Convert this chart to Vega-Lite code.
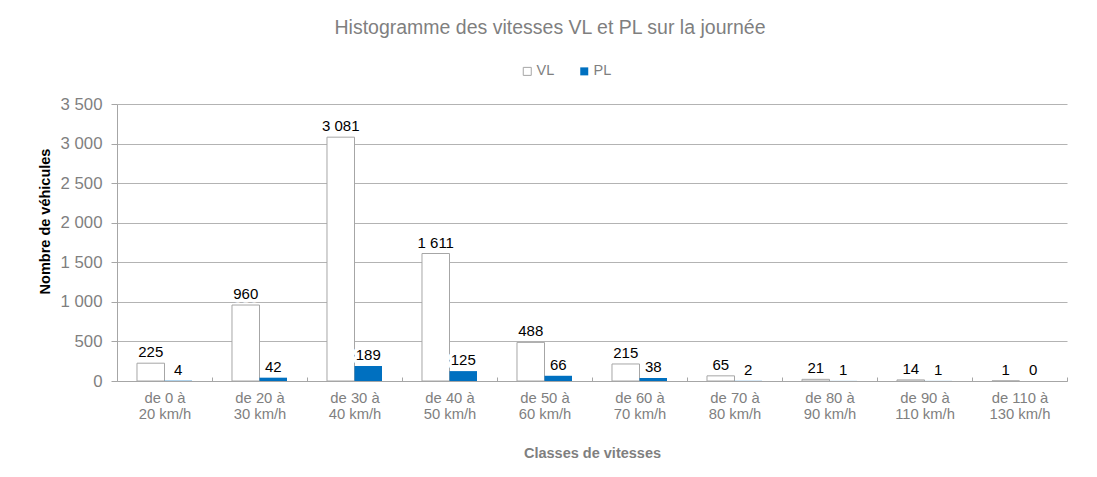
{
  "$schema": "https://vega.github.io/schema/vega-lite/v6.json",
  "width": 950,
  "height": 277,
  "autosize": {"type": "none"},
  "padding": {"left": 117, "top": 104, "right": 30, "bottom": 96},
  "background": "white",
  "config": {
    "font": "Liberation Sans",
    "view": {"stroke": null},
    "locale": {"number": {"decimal": ",", "thousands": " ", "grouping": [3], "currency": ["", " €"]}}
  },
  "title": {
    "text": "Histogramme des vitesses VL et PL sur la journée",
    "fontSize": 19.5,
    "fontWeight": "normal",
    "color": "#7F7F7F",
    "font": "Liberation Sans",
    "anchor": "middle",
    "dx": -42,
    "offset": 26
  },
  "data": {
    "values": [
      {"classe": "de 0 à 20 km/h", "type": "VL", "n": 225},
      {"classe": "de 0 à 20 km/h", "type": "PL", "n": 4},
      {"classe": "de 20 à 30 km/h", "type": "VL", "n": 960},
      {"classe": "de 20 à 30 km/h", "type": "PL", "n": 42},
      {"classe": "de 30 à 40 km/h", "type": "VL", "n": 3081},
      {"classe": "de 30 à 40 km/h", "type": "PL", "n": 189},
      {"classe": "de 40 à 50 km/h", "type": "VL", "n": 1611},
      {"classe": "de 40 à 50 km/h", "type": "PL", "n": 125},
      {"classe": "de 50 à 60 km/h", "type": "VL", "n": 488},
      {"classe": "de 50 à 60 km/h", "type": "PL", "n": 66},
      {"classe": "de 60 à 70 km/h", "type": "VL", "n": 215},
      {"classe": "de 60 à 70 km/h", "type": "PL", "n": 38},
      {"classe": "de 70 à 80 km/h", "type": "VL", "n": 65},
      {"classe": "de 70 à 80 km/h", "type": "PL", "n": 2},
      {"classe": "de 80 à 90 km/h", "type": "VL", "n": 21},
      {"classe": "de 80 à 90 km/h", "type": "PL", "n": 1},
      {"classe": "de 90 à 110 km/h", "type": "VL", "n": 14},
      {"classe": "de 90 à 110 km/h", "type": "PL", "n": 1},
      {"classe": "de 110 à 130 km/h", "type": "VL", "n": 1},
      {"classe": "de 110 à 130 km/h", "type": "PL", "n": 0}
    ]
  },
  "encoding": {
    "x": {
      "field": "classe",
      "type": "nominal",
      "sort": null,
      "scale": {"paddingInner": 0, "paddingOuter": 0},
      "axis": {
        "title": "Classes de vitesses",
        "titleFont": "Liberation Sans",
        "titleFontSize": 14.5,
        "titleFontWeight": "bold",
        "titleColor": "#7F7F7F",
        "titlePadding": 26,
        "labelAngle": 0,
        "labelFont": "Liberation Sans",
        "labelFontSize": 14.8,
        "labelColor": "#7F7F7F",
        "labelLineHeight": 16,
        "labelBaseline": "top",
        "labelPadding": 13,
        "labelExpr": "[slice(datum.label, 0, indexof(datum.label, ' à') + 2), slice(datum.label, indexof(datum.label, ' à') + 3)]",
        "ticks": true,
        "tickBand": "extent",
        "tickSize": -4,
        "tickColor": "#A6A6A6",
        "domainColor": "#A6A6A6",
        "grid": false
      }
    },
    "xOffset": {
      "field": "type",
      "type": "nominal",
      "sort": ["VL", "PL"],
      "scale": {"paddingInner": 0, "paddingOuter": 0.727}
    },
    "y": {
      "field": "n",
      "type": "quantitative",
      "scale": {"domain": [0, 3500]},
      "axis": {
        "title": "Nombre de véhicules",
        "titleFont": "Liberation Sans",
        "titleFontSize": 14.5,
        "titleFontWeight": "bold",
        "titleColor": "#000000",
        "titlePadding": 8,
        "titleY": 117,
        "values": [0, 500, 1000, 1500, 2000, 2500, 3000, 3500],
        "format": ",d",
        "labelFont": "Liberation Sans",
        "labelFontSize": 16.8,
        "labelColor": "#7F7F7F",
        "labelPadding": 9,
        "tickSize": 6,
        "tickColor": "#A6A6A6",
        "domainColor": "#A6A6A6",
        "gridColor": "#B3B3B3"
      }
    }
  },
  "layer": [
    {
      "mark": {"type": "bar", "strokeWidth": 1},
      "encoding": {
        "color": {
          "field": "type",
          "type": "nominal",
          "scale": {"domain": ["VL", "PL"], "range": ["#FFFFFF", "#0070C0"]},
          "legend": {
            "title": null,
            "orient": "none",
            "direction": "horizontal",
            "legendX": 403,
            "legendY": -40,
            "symbolType": "square",
            "symbolSize": 64,
            "symbolStrokeWidth": 1,
            "labelFont": "Liberation Sans",
            "labelFontSize": 14.5,
            "labelColor": "#7F7F7F",
            "labelOffset": 2,
            "columnPadding": 22
          }
        },
        "stroke": {
          "field": "type",
          "type": "nominal",
          "scale": {"domain": ["VL", "PL"], "range": ["#A6A6A6", "transparent"]},
          "legend": {
            "title": null,
            "orient": "none",
            "direction": "horizontal",
            "legendX": 403,
            "legendY": -40,
            "symbolType": "square",
            "symbolSize": 64,
            "symbolStrokeWidth": 1,
            "labelFont": "Liberation Sans",
            "labelFontSize": 14.5,
            "labelColor": "#7F7F7F",
            "labelOffset": 2,
            "columnPadding": 22
          }
        }
      }
    },
    {
      "mark": {"type": "text", "baseline": "alphabetic", "dy": -6, "fontSize": 15, "font": "Liberation Sans", "stroke": "white", "strokeWidth": 7, "strokeJoin": "round", "fill": "white"},
      "encoding": {"text": {"field": "n", "type": "quantitative", "format": ",d"}}
    },
    {
      "mark": {"type": "text", "baseline": "alphabetic", "dy": -6, "fontSize": 15, "font": "Liberation Sans", "color": "#000000"},
      "encoding": {"text": {"field": "n", "type": "quantitative", "format": ",d"}}
    }
  ]
}
